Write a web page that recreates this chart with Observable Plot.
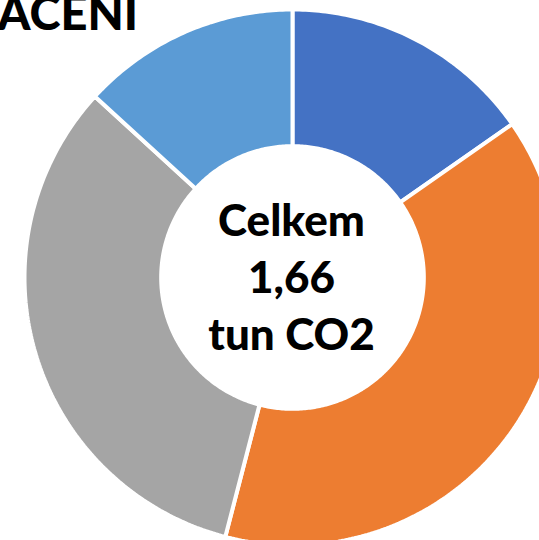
<!DOCTYPE html>
<html>
<head>
<meta charset="utf-8">
<script src="https://cdn.jsdelivr.net/npm/d3@7"></script>
<script src="https://cdn.jsdelivr.net/npm/@observablehq/plot@0.6"></script>
<style>
  html, body { margin: 0; padding: 0; background: white; overflow: hidden; }
  #chart svg { display: block; overflow: hidden; }
</style>
</head>
<body>
<div id="chart"></div>
<script>
// Data (tons CO2)
const categories = ["A", "B", "C", "D"];
const values = [0.254, 0.643, 0.544, 0.219];
const colors = ["#4472C4", "#ED7D31", "#A5A5A5", "#5B9BD5"];
const centerLabel = ["Celkem", "1,66", "tun CO2"];
const titleText = ["ACENI"];

const W = 539, H = 540;
const cx = 292, cy = 277, R = 268;
const innerRatio = 0.49;

// Build ring polygons from the values with d3.pie (angles clockwise from north)
const pie = d3.pie().sort(null).value(d => d.value)(categories.map((c, i) => ({cat: c, value: values[i]})));
const pts = [];
for (const a of pie) {
  const n = Math.max(8, Math.ceil((a.endAngle - a.startAngle) * 80));
  const ring = [];
  for (let k = 0; k <= n; k++) {
    const t = a.startAngle + (a.endAngle - a.startAngle) * k / n;
    ring.push({cat: a.data.cat, x: Math.sin(t), y: Math.cos(t)});
  }
  for (let k = n; k >= 0; k--) {
    const t = a.startAngle + (a.endAngle - a.startAngle) * k / n;
    ring.push({cat: a.data.cat, x: innerRatio * Math.sin(t), y: innerRatio * Math.cos(t)});
  }
  ring.push(ring[0]);
  pts.push(...ring);
}

const chart = Plot.plot({
  width: W,
  height: H,
  margin: 0,
  style: {background: "white", overflow: "hidden"},
  x: {domain: [-1, 1], range: [cx - R, cx + R], axis: null},
  y: {domain: [-1, 1], range: [cy + R, cy - R], axis: null},
  color: {domain: categories, range: colors},
  marks: [
    Plot.line(pts, {x: "x", y: "y", z: "cat", fill: "cat", stroke: "white", strokeWidth: 4, curve: "linear", strokeLinejoin: "miter"}),
    Plot.text([centerLabel.join("\n")], {
      x: () => 0, y: () => 0, text: d => d, dy: -3, dx: -1,
      fontFamily: "Lato", fontWeight: 900, fontSize: 44, lineHeight: 1.3,
      fill: "black", textAnchor: "middle", lineAnchor: "middle"
    }),
    Plot.text(titleText, {
      frameAnchor: "top-left", text: d => d, dx: -3, dy: -4,
      fontFamily: "Lato", fontWeight: 900, fontSize: 47,
      fill: "black", textAnchor: "start", lineAnchor: "top"
    })
  ]
});
document.getElementById("chart").appendChild(chart);
</script>
</body>
</html>
